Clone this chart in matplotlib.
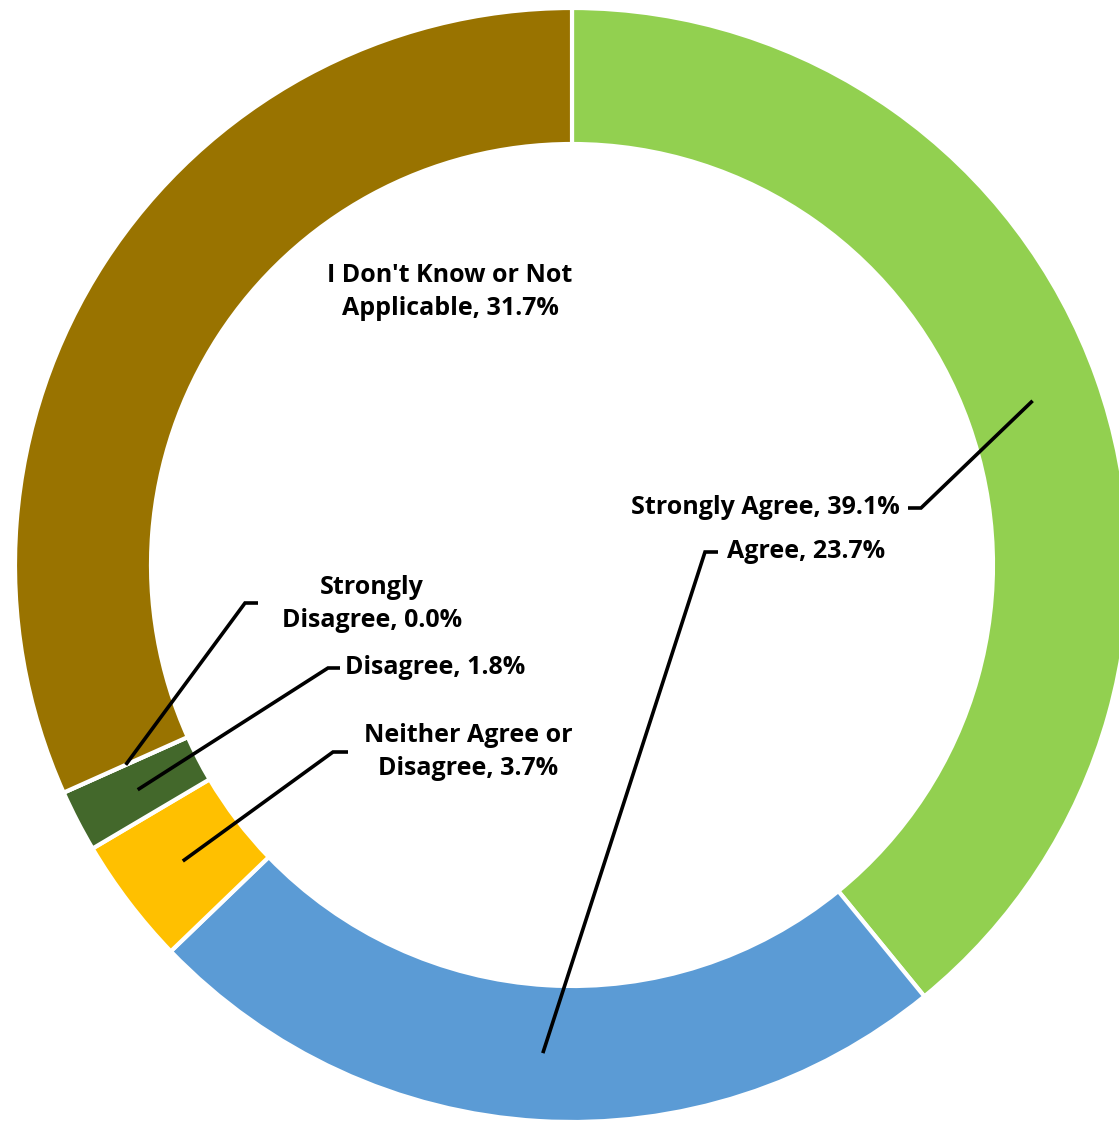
import numpy as np
import matplotlib
matplotlib.use("Agg")
import matplotlib.pyplot as plt

categories = ["Strongly Agree", "Agree", "Neither Agree or Disagree", "Disagree",
              "Strongly Disagree", "I Don't Know or Not Applicable"]
values = [39.1, 23.7, 3.7, 1.8, 0.0, 31.7]
colors = ["#92D050", "#5B9BD5", "#FFC000", "#43682B", "#7F7F7F", "#997300"]
label_texts = ["Strongly Agree, 39.1%", "Agree, 23.7%", "Neither Agree or\nDisagree, 3.7%",
               "Disagree, 1.8%", "Strongly\nDisagree, 0.0%", "I Don't Know or Not\nApplicable, 31.7%"]

W, H = 1119, 1122
CX, CY, R = 572, 565, 557
INNER = 421 / 557

fig = plt.figure(figsize=(W / 100, H / 100), dpi=100)
ax = fig.add_axes([0, 0, 1, 1])

wedges, _ = ax.pie(values, colors=colors, startangle=90, counterclock=False,
                   radius=1.0, wedgeprops=dict(width=1 - INNER, edgecolor='white', linewidth=3))
ax.set_aspect('auto')
ax.set_xlim((0 - CX) / R, (W - CX) / R)
ax.set_ylim((CY - H) / R, CY / R)
ax.axis('off')


def px(x, y):
    return ((x - CX) / R, (CY - y) / R)


font = dict(family=['Open Sans', 'DejaVu Sans'], fontweight='bold', fontsize=18, color='black')

# label layout: (text anchor px, ha, elbow start px, elbow end px) ; None = no leader
layout = [
    ((900, 508), 'right', (908, 508), (921, 508)),
    ((727, 552), 'left', (718, 552), (705, 552)),
    ((468, 752), 'center', (348, 752), (333, 752)),
    ((345, 668), 'left', (340, 668), (328, 668)),
    ((372, 604), 'center', (258, 603), (245, 603)),
    ((450, 292), 'center', None, None),
]

rmid = (1 + INNER) / 2
for w, txt, (tpos, ha, e1, e2) in zip(wedges, label_texts, layout):
    tx, ty = px(*tpos)
    ax.text(tx, ty, txt, ha=ha, va='center', linespacing=1.4, **font)
    if e1 is not None:
        ang = np.deg2rad((w.theta1 + w.theta2) / 2)
        sx, sy = rmid * np.cos(ang), rmid * np.sin(ang)
        p1 = px(*e1)
        p2 = px(*e2)
        ax.plot([p1[0], p2[0], sx], [p1[1], p2[1], sy], color='black', lw=2.6,
                solid_joinstyle='miter', solid_capstyle='butt', zorder=5)

fig.savefig("out.png", dpi=100)
